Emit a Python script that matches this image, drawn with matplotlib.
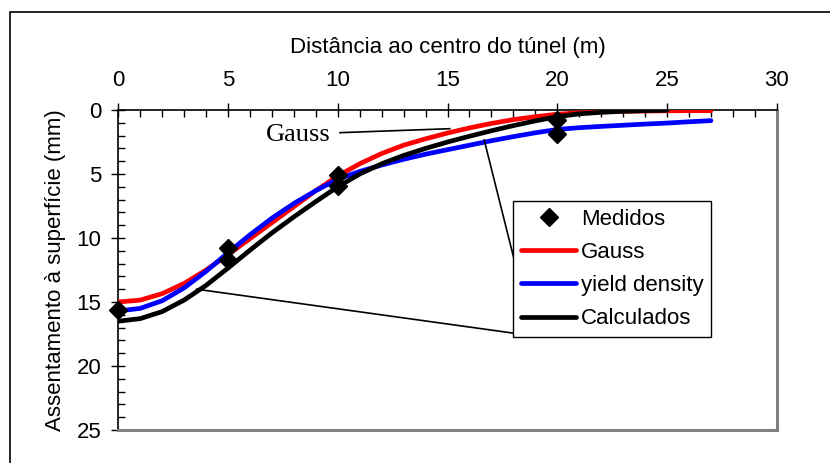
import matplotlib.pyplot as plt
from matplotlib.patches import Rectangle
from matplotlib.ticker import MultipleLocator

plt.rcParams['font.family'] = ['Liberation Sans', 'DejaVu Sans']

# measured settlements
med_x = [0, 5, 5, 10, 10, 20, 20]
med_y = [15.6, 10.8, 11.7, 5.1, 5.9, 0.8, 1.9]

# fitted curves, read every 1 m
gauss_x = list(range(0, 28))
gauss_y = [15.0, 14.85, 14.35, 13.55, 12.5, 11.3, 10.05, 8.8, 7.55, 6.3,
           5.15, 4.2, 3.4, 2.75, 2.25, 1.8, 1.4, 1.05, 0.75, 0.52,
           0.33, 0.22, 0.15, 0.1, 0.08, 0.06, 0.05, 0.05]

yield_x = list(range(0, 28))
yield_y = [15.7, 15.5, 14.9, 13.9, 12.6, 11.15, 9.75, 8.45, 7.3, 6.3,
           5.4, 4.8, 4.3, 3.85, 3.45, 3.1, 2.75, 2.4, 2.08, 1.78,
           1.52, 1.38, 1.28, 1.19, 1.1, 1.02, 0.92, 0.83]

calc_x = list(range(0, 26))
calc_y = [16.5, 16.3, 15.75, 14.85, 13.7, 12.35, 10.95, 9.6, 8.35, 7.15,
          6.0, 5.0, 4.2, 3.55, 3.0, 2.5, 2.05, 1.62, 1.22, 0.85,
          0.52, 0.3, 0.18, 0.1, 0.05, 0.02]

fig = plt.figure(figsize=(8.3, 4.63), dpi=100)
ax = fig.add_axes([0.1425, 0.0713, 0.7934, 0.6911])

style = dict(lw=3.4, solid_capstyle='round', solid_joinstyle='round', zorder=3)
ax.plot(gauss_x, gauss_y, color='#ff0000', label='Gauss', **style)
ax.plot(yield_x, yield_y, color='#0000ff', label='yield density', **style)
ax.plot(calc_x, calc_y, color='black', label='Calculados', **style)
ax.plot(med_x, med_y, 'D', color='black', ms=9, label='Medidos', zorder=5,
        clip_on=False)

# annotation leaders
ax.text(8.2, 1.95, 'Gauss', family='Liberation Serif', fontsize=19,
        ha='center', va='center')
ax.plot([10.1, 15.1], [1.77, 1.46], color='black', lw=1.2, zorder=4)
ax.plot([16.67, 18.45], [2.34, 14.53], color='black', lw=1.2, zorder=4)
ax.plot([3.57, 18.28], [14.0, 17.5], color='black', lw=1.2, zorder=4)

ax.set_xlim(0, 30)
ax.set_ylim(25, 0)
ax.xaxis.tick_top()
ax.xaxis.set_label_position('top')
ax.xaxis.set_major_locator(MultipleLocator(5))
ax.xaxis.set_minor_locator(MultipleLocator(1))
ax.yaxis.set_major_locator(MultipleLocator(5))
ax.yaxis.set_minor_locator(MultipleLocator(1))
ax.tick_params(which='major', direction='inout', length=10, width=1,
               labelsize=16, color='black')
ax.tick_params(axis='x', which='major', pad=9)
ax.tick_params(axis='y', which='major', pad=7)
ax.tick_params(which='minor', direction='in', length=5, width=1)
ax.tick_params(top=True, bottom=False, left=True, right=False,
               which='both')

ax.set_xlabel('Distância ao centro do túnel (m)', fontsize=16, labelpad=12)
ax.set_ylabel('Assentamento à superfície (mm)', fontsize=16, labelpad=8)

for s in ['top', 'left']:
    ax.spines[s].set_color('black')
    ax.spines[s].set_linewidth(1.2)
for s in ['right', 'bottom']:
    ax.spines[s].set_color('#808080')
    ax.spines[s].set_linewidth(2.2)

handles, labels = ax.get_legend_handles_labels()
order = [3, 0, 1, 2]
leg = ax.legend([handles[i] for i in order], [labels[i] for i in order],
                loc='upper left', bbox_to_anchor=(0.5994, 0.7156),
                frameon=True, fancybox=False, edgecolor='black',
                framealpha=1, fontsize=16, handlelength=2.5,
                handletextpad=0.2, labelspacing=0.55, borderpad=0.35,
                borderaxespad=0)
leg.get_frame().set_linewidth(1)
leg.set_zorder(6)

# outer chart frame
fig.add_artist(Rectangle((0.0115, -0.1), 1.2, 1.074, transform=fig.transFigure,
                         fill=False, edgecolor='black', lw=1.2))

fig.savefig('out.png', dpi=100)
